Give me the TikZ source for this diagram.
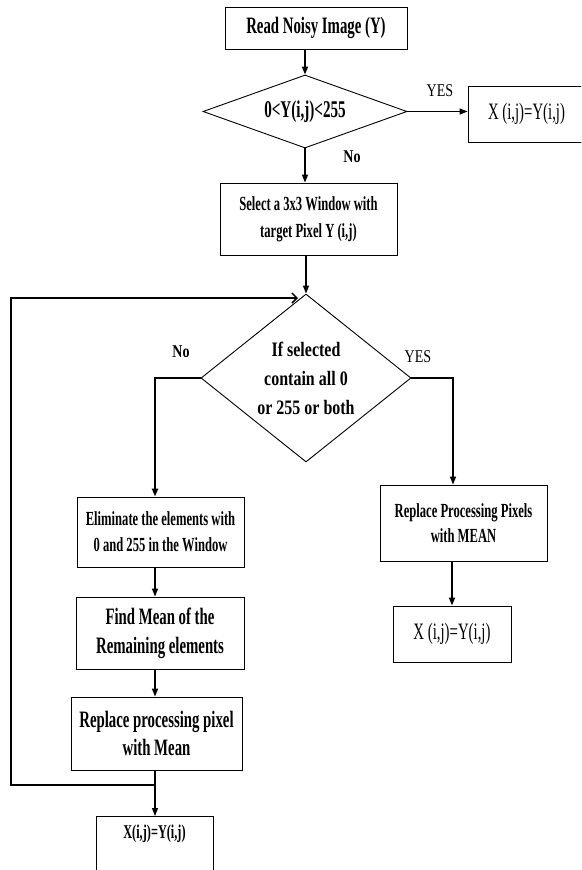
\documentclass[tikz,border=0pt]{standalone}
\usepackage{fontspec}
\setmainfont{Liberation Serif}[FakeStretch=0.78]
\newfontfamily\fA{Liberation Serif}[FakeStretch=0.63]
\newfontfamily\fC{Liberation Serif}[FakeStretch=0.78]
\usetikzlibrary{arrows.meta,shapes.geometric,calc}
\begin{document}
\begin{tikzpicture}[x=1pt,y=-1pt,
  box/.style={draw,line width=0.9pt,rectangle,inner sep=0pt,align=center},
  dia/.style={draw,line width=0.9pt,diamond,inner sep=0pt,align=center},
  bigb/.style={font=\fA\fontsize{23.5}{28.5}\selectfont\bfseries},
  smallb/.style={font=\fA\fontsize{20}{26}\selectfont\bfseries},
  reg/.style={font=\fA\fontsize{23.5}{28}\selectfont},
  lab/.style={font=\fC\fontsize{18}{22}\selectfont},
  labb/.style={font=\fC\fontsize{18}{22}\selectfont\bfseries},
  conn/.style={line width=1.3pt,-{Triangle[length=8pt,width=6pt]}}]
\useasboundingbox (0,0) rectangle (581,870);
\clip (0,0) rectangle (581,870);

% nodes
\node[box,bigb,minimum width=182pt,minimum height=42pt] (read) at (316,28) {Read Noisy Image (Y)};
\node[dia,font=\fA\fontsize{24}{28}\selectfont\bfseries,minimum width=204pt,minimum height=73pt,aspect=2.8] (d1) at (305,111.5) {0<Y(i,j)<255};
\node[box,reg,minimum width=117pt,minimum height=56pt] (tr) at (526.5,114) {X (i,j)=Y(i,j)};
\node[box,smallb,minimum width=177pt,minimum height=72pt,font=\fA\fontsize{20}{27}\selectfont\bfseries] (sel) at (308.5,219) {Select a 3x3 Window with\\target Pixel Y (i,j)};
\node[dia,font=\fC\fontsize{20.5}{29}\selectfont\bfseries,minimum width=210pt,minimum height=168pt,aspect=1.25] (d2) at (306,378) {If selected\\contain all 0\\or 255 or both};
\node[box,smallb,minimum width=167pt,minimum height=70pt] (elim) at (160.5,532) {Eliminate the elements with\\0 and 255 in the Window};
\node[box,bigb,minimum width=168pt,minimum height=72pt,font=\fA\fontsize{23.5}{29}\selectfont\bfseries] (fm) at (160,633) {Find Mean of the\\Remaining elements};
\node[box,bigb,minimum width=171pt,minimum height=73pt] (rp) at (156.5,733.5) {Replace processing pixel\\with Mean};
\node[box,font=\fA\fontsize{19.5}{24}\selectfont\bfseries,anchor=north,minimum width=117pt,text height=13pt,text depth=45pt,inner ysep=9pt] (fin) at (154.5,816) {X(i,j)=Y(i,j)};
\node[box,smallb,minimum width=167pt,minimum height=76pt,font=\fA\fontsize{20}{25}\selectfont\bfseries] (rpp) at (463.5,523) {Replace Processing Pixels\\with MEAN};
\node[box,reg,minimum width=118pt,minimum height=56pt] (xr) at (452,634) {X (i,j)=Y(i,j)};

% thicker bottom edges
\foreach \n in {read,tr,sel,elim,fm,rp,rpp,xr}
  \draw[line width=1.8pt] (\n.south west) -- (\n.south east);

% labels
\node[lab] (yes1) at (440,91) {YES};
\node[labb] (no1) at (352,157) {No};
\node[labb] (no2) at (181,352) {No};
\node[lab] (yes2) at (418,357) {YES};

% helper coordinates
\coordinate (lx) at (155,0);
\coordinate (rx) at (453,0);
\coordinate (loopA) at (155,785);
\coordinate (loopB) at (11,785);
\coordinate (loopC) at (11,298);
\coordinate (loopD) at (298,298);

% connectors
\draw[conn,line width=1.8pt] (d1.north |- read.south) -- (d1.north);
\draw[conn] (d1.east) -- (d1.east -| tr.west);
\draw[conn] (d1.south) -- (d1.south |- sel.north);
\draw[conn] (d2.north |- sel.south) -- (d2.north);
\draw[conn,line width=2pt] (d2.west) -| (lx |- elim.north);
\draw[conn] (d2.east) -| (rx |- rpp.north);
\draw[conn] (lx |- elim.south) -- (lx |- fm.north);
\draw[conn] (lx |- fm.south) -- (lx |- rp.north);
\draw[conn] (lx |- rp.south) -- (lx |- fin.north);
\draw[conn,line width=1.8pt] (xr.north |- rpp.south) -- (xr.north);
\draw[line width=1.5pt,-{Straight Barb[length=5pt,width=10pt]}] (loopA) -- (loopB) -- (loopC) -- (loopD);
\end{tikzpicture}
\end{document}
